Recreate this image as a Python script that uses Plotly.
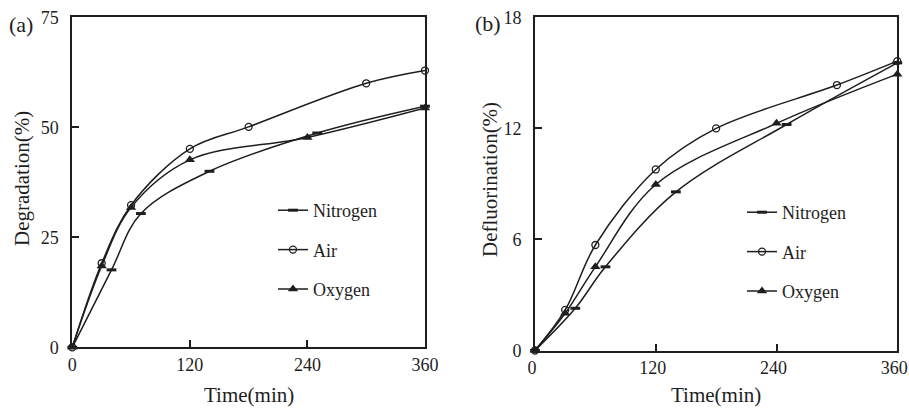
import plotly.graph_objects as go

# ---- data ----
time_n = [0, 40, 70, 140, 250, 360]
time_air = [0, 30, 60, 120, 180, 300, 360]
time_o2 = [0, 30, 60, 120, 240, 360]

deg_nitrogen = [0, 17.6, 30.4, 40.0, 48.7, 54.8]
deg_air = [0, 19.1, 32.3, 45.1, 50.1, 60.0, 62.9]
deg_oxygen = [0, 18.5, 31.8, 42.6, 47.7, 54.4]

def_nitrogen = [0, 2.28, 4.52, 8.57, 12.21, 15.54]
def_air = [0, 2.19, 5.70, 9.78, 12.0, 14.34, 15.63]
def_oxygen = [0, 2.01, 4.52, 8.97, 12.27, 14.93]

series_names = ["Nitrogen", "Air", "Oxygen"]
x_ticks = [0, 120, 240, 360]
deg_ticks = [0, 25, 50, 75]
def_ticks = [0, 6, 12, 18]

FONT = "Liberation Serif"
INK = "#1e1e1e"

W, H = 909, 408
def px_x(p):
    return p / W
def px_y(p):
    return 1 - p / H

fig = go.Figure()

markers = [
    dict(symbol="line-ew", size=7, color=INK, line=dict(width=3, color=INK)),
    dict(symbol="circle-open", size=7, color=INK, line=dict(width=1.3, color=INK)),
    dict(symbol="triangle-up", size=9, color=INK, line=dict(width=0)),
]

panels = [
    ("x", "y", "legend", [(time_n, deg_nitrogen), (time_air, deg_air), (time_o2, deg_oxygen)]),
    ("x2", "y2", "legend2", [(time_n, def_nitrogen), (time_air, def_air), (time_o2, def_oxygen)]),
]
for xa, ya, lg, data in panels:
    for i, (xs, ys) in enumerate(data):
        fig.add_trace(go.Scatter(
            x=xs, y=ys, mode="lines+markers", name=series_names[i],
            xaxis=xa, yaxis=ya, legend=lg, legendgroup=f"{lg}_{i}",
            line=dict(color=INK, width=1.5, shape="spline", smoothing=1.0),
            marker=markers[i], cliponaxis=False,
        ))

axis_common = dict(
    showline=True, linecolor=INK, linewidth=1.8, mirror=True,
    ticks="inside", ticklen=7, tickwidth=1.5, tickcolor=INK,
    showgrid=False, zeroline=False, automargin=False,
    ticklabeloverflow="allow",
    tickfont=dict(family=FONT, size=18, color=INK),
)

fig.update_layout(
    width=W, height=H, autosize=False,
    margin=dict(l=0, r=0, t=0, b=0, autoexpand=False),
    paper_bgcolor="white", plot_bgcolor="white",
    showlegend=True,
    xaxis=dict(domain=[px_x(72.3), px_x(425)], range=[0, 360], tickvals=x_ticks,
               anchor="y", ticklabelstandoff=0, **axis_common),
    yaxis=dict(domain=[px_y(347.3), px_y(17.3)], range=[0, 75], tickvals=deg_ticks,
               anchor="x", ticklabelstandoff=8, **axis_common),
    xaxis2=dict(domain=[px_x(535), px_x(897.3)], range=[0, 360], tickvals=x_ticks,
                anchor="y2", ticklabelstandoff=0, ticklabelshift=-3, **axis_common),
    yaxis2=dict(domain=[px_y(350.5), px_y(17.3)], range=[0, 18], tickvals=def_ticks,
                anchor="x2", ticklabelstandoff=8, **axis_common),
    legend=dict(x=px_x(273), y=px_y(192), xanchor="left", yanchor="top",
                bgcolor="rgba(0,0,0,0)", tracegroupgap=13,
                font=dict(family=FONT, size=18, color=INK)),
    legend2=dict(x=px_x(742), y=px_y(194), xanchor="left", yanchor="top",
                 bgcolor="rgba(0,0,0,0)", tracegroupgap=13,
                 font=dict(family=FONT, size=18, color=INK)),
)

ann_font = dict(family=FONT, size=21, color=INK)
fig.add_annotation(text="Time(min)", x=px_x(248.7), y=px_y(395), xref="paper", yref="paper",
                   showarrow=False, xanchor="center", yanchor="middle", font=ann_font)
fig.add_annotation(text="Time(min)", x=px_x(716), y=px_y(395), xref="paper", yref="paper",
                   showarrow=False, xanchor="center", yanchor="middle", font=ann_font)
fig.add_annotation(text="Degradation(%)", x=px_x(22), y=px_y(179), xref="paper", yref="paper",
                   showarrow=False, xanchor="center", yanchor="middle", textangle=-90, font=ann_font)
fig.add_annotation(text="Defluorination(%)", x=px_x(490), y=px_y(180), xref="paper", yref="paper",
                   showarrow=False, xanchor="center", yanchor="middle", textangle=-90, font=ann_font)
fig.add_annotation(text="(a)", x=px_x(21), y=px_y(24), xref="paper", yref="paper",
                   showarrow=False, xanchor="center", yanchor="middle",
                   font=dict(family=FONT, size=22, color=INK))
fig.add_annotation(text="(b)", x=px_x(488), y=px_y(23), xref="paper", yref="paper",
                   showarrow=False, xanchor="center", yanchor="middle",
                   font=dict(family=FONT, size=22, color=INK))

fig.write_html("out.html", config={"displayModeBar": False},
               post_script="document.body.style.margin='0';document.body.style.overflow='hidden';")
